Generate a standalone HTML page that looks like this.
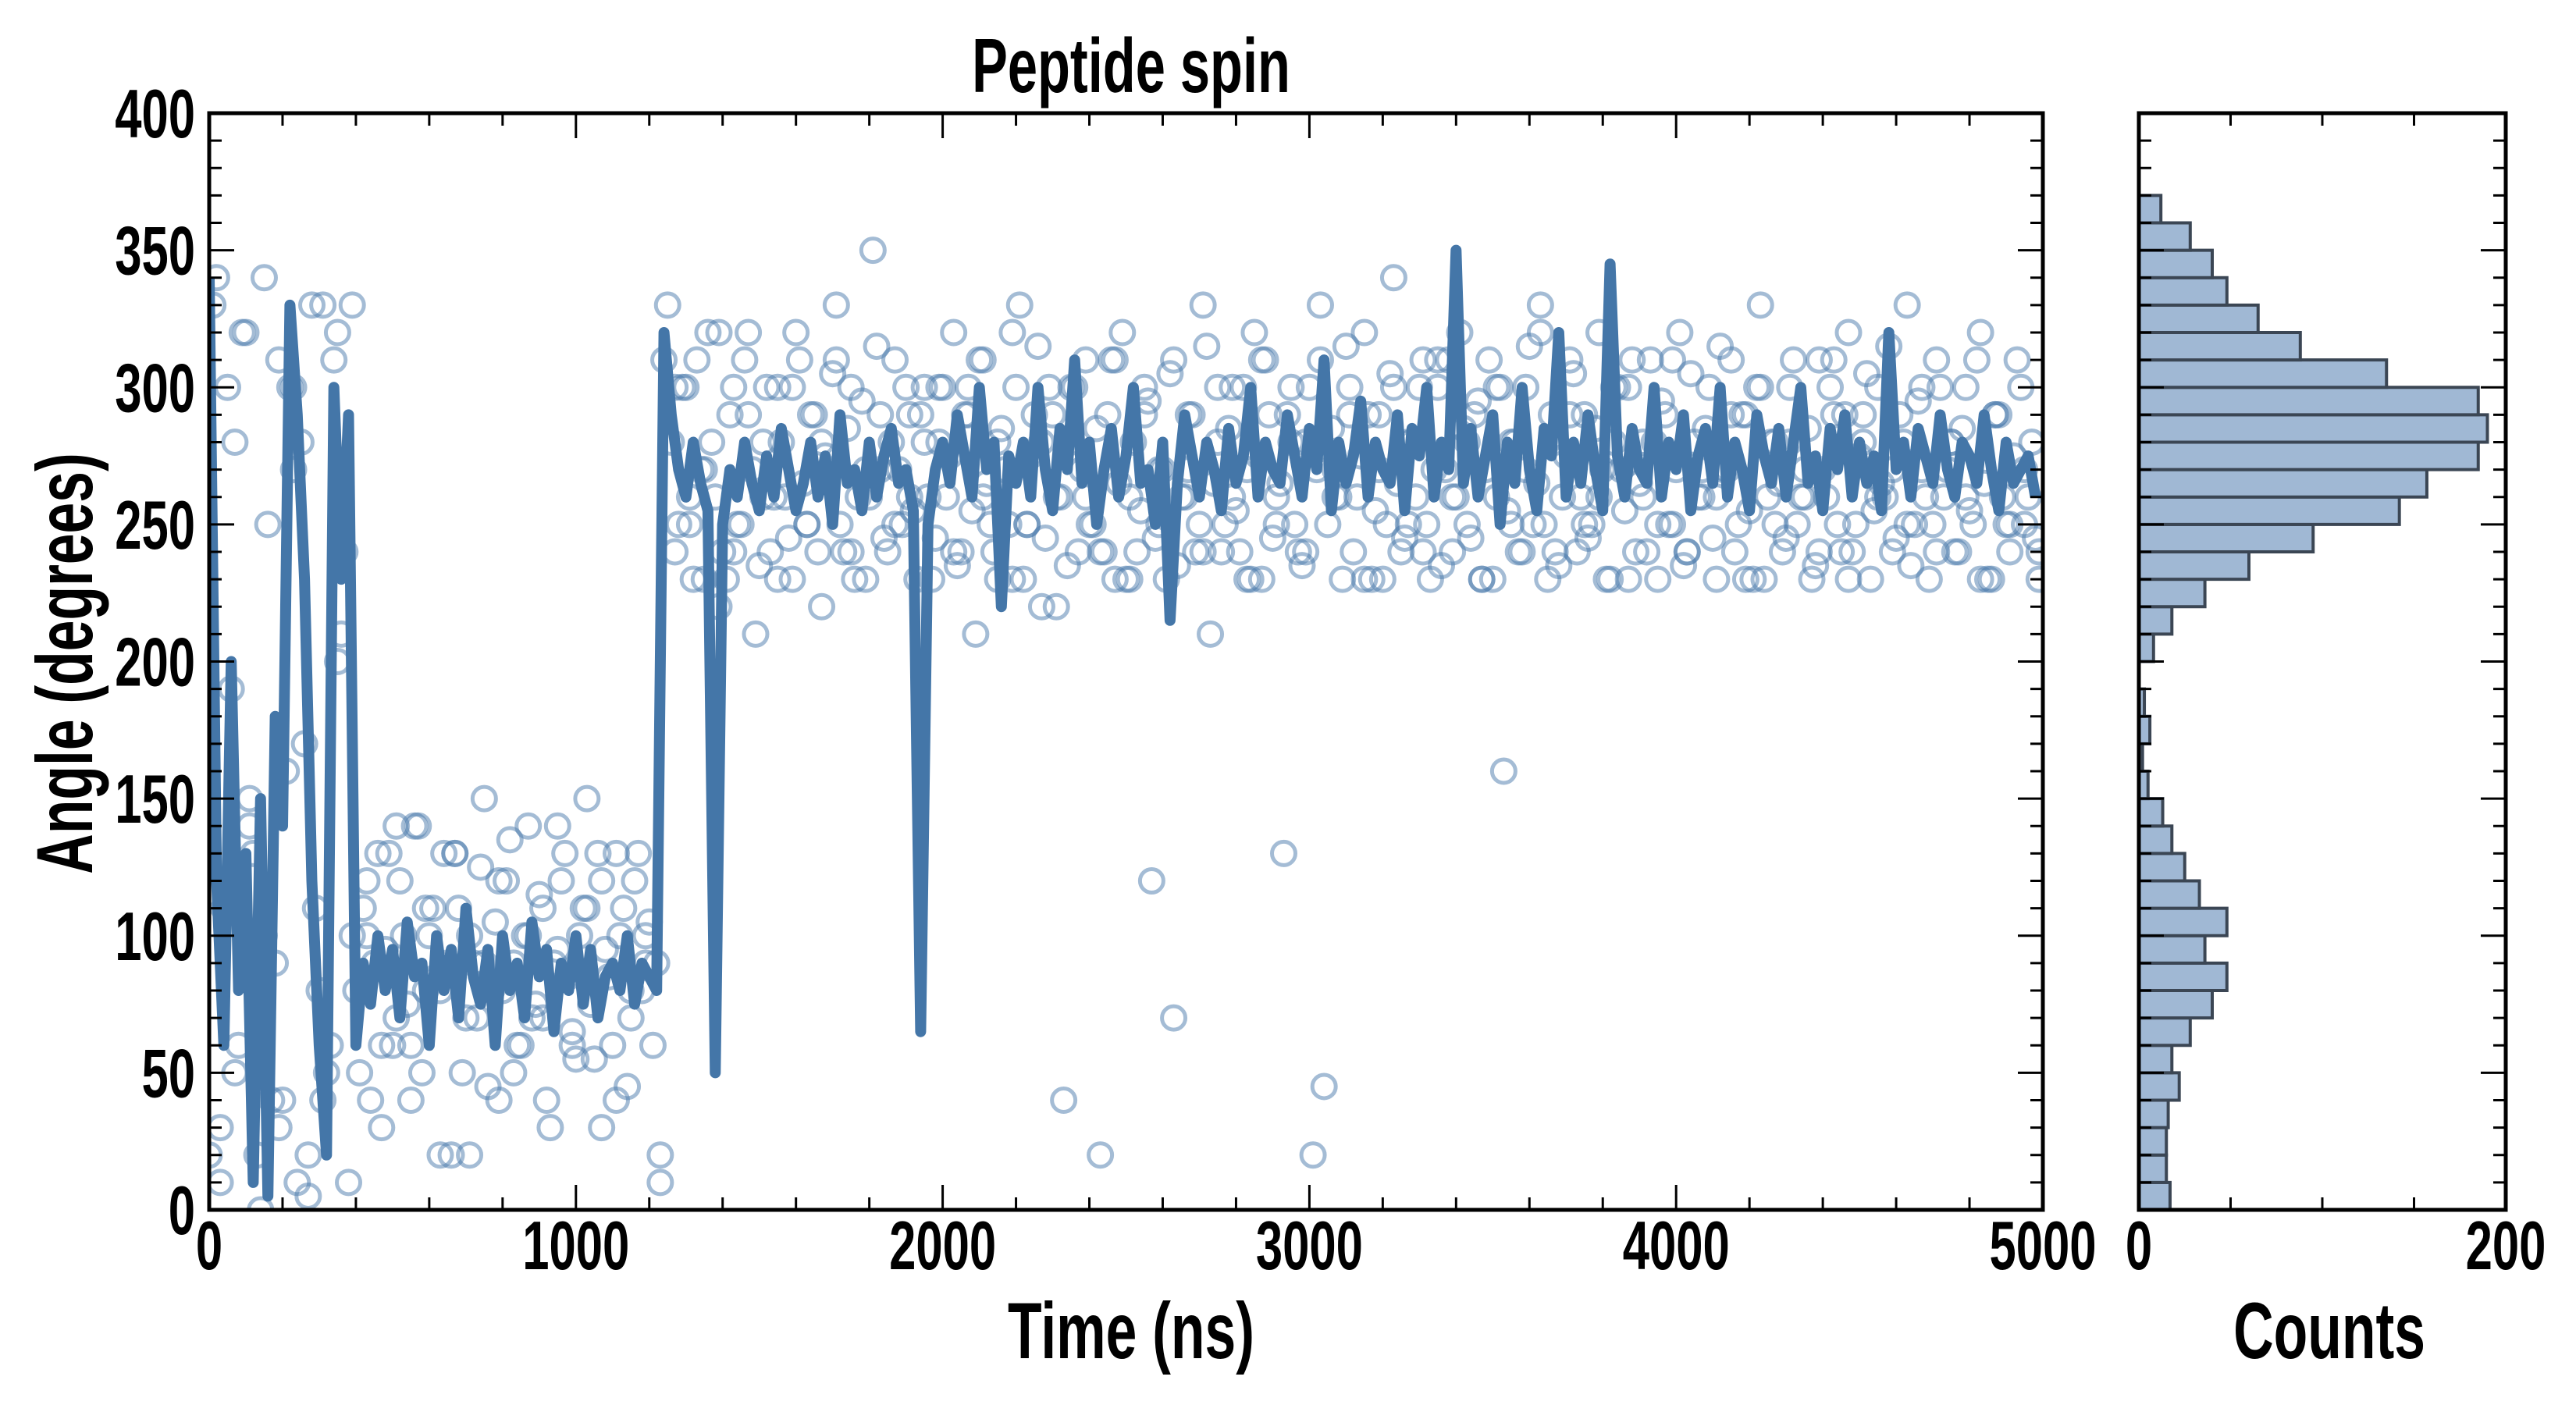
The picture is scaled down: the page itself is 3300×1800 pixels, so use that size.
<!DOCTYPE html>
<html><head><meta charset="utf-8"><style>
html,body{margin:0;padding:0;background:#fff;}
svg{display:block;}
text{font-family:"Liberation Sans Narrow","Liberation Sans",sans-serif;font-weight:bold;fill:#000;}
</style></head><body>
<svg id="chart" width="3300" height="1800" viewBox="0 0 3300 1800" xmlns="http://www.w3.org/2000/svg"></svg>
<script>
// ---- data ----
const lineStep = 20;
const lineValues = [340,120,60,200,80,130,10,150,5,180,140,330,290,230,120,60,20,300,230,290,
60,90,75,100,80,95,70,105,85,90,60,100,80,95,70,110,85,75,95,60,100,80,90,70,105,85,95,65,90,80,100,75,95,70,85,90,80,100,75,90,85,80,
320,290,270,260,280,265,255,50,
250,270,260,280,265,255,275,260,285,270,255,265,280,260,275,250,290,265,270,255,280,260,275,285,265,270,255,65,
250,270,280,265,290,275,260,300,270,280,
220,275,265,280,260,300,270,255,285,270,
310,265,280,250,270,285,260,275,300,265,
270,250,280,215,265,290,275,260,280,270,
255,285,265,275,300,260,280,270,265,290,
275,260,285,270,310,255,280,265,275,295,
260,280,270,265,290,255,285,275,300,260,
280,270,350,265,285,260,275,290,250,280,
265,300,270,255,285,275,320,260,280,265,
290,270,255,345,275,260,285,270,265,300,
260,280,270,290,255,275,285,265,300,260,
280,270,255,290,275,265,285,260,280,300,
265,275,255,285,270,290,260,280,265,275,
255,320,270,280,260,285,275,265,290,270,
260,280,275,265,290,270,255,280,265,270,
275,260];
const scatterAStart = 10, scatterAStep = 20;
const scatterAValues = [330,30,300,50,320,140,20,100,40,310,160,300,280,20,110,40,60,320,240,330,
50,120,90,30,130,70,100,60,140,80,110,20,90,130,50,100,70,150,80,40,120,90,60,140,75,110,30,95,130,65,100,150,55,120,85,40,110,70,130,90,60,20,
330,240,300,260,310,230,280,220,
230,300,250,320,210,280,240,300,260,230,310,250,290,220,270,330,240,300,260,230,350,270,240,310,250,290,230,280,
230,300,260,320,240,290,210,310,250,280,
270,230,330,250,290,220,300,260,40,280,
240,310,250,20,290,230,320,260,240,300,
120,270,230,310,260,290,240,330,210,280,
250,300,240,270,320,230,290,260,130,300,
240,280,20,310,250,270,230,300,260,320,
230,290,250,340,240,280,260,310,230,300,
270,240,320,250,290,230,310,260,160,280,
240,300,250,330,230,280,260,310,240,290,
250,320,230,280,270,300,240,260,310,230,
290,250,320,240,280,260,300,230,270,310,
250,290,230,330,260,280,240,300,250,270,
230,310,260,290,240,320,250,280,230,300,
260,240,290,330,250,270,230,310,260,280,
240,300,250,320,230,290,260,240,310,250,
280,230];
const scatterBStart = 30, scatterBStep = 40;
const scatterBValues = [10,280,150,340,30,270,5,330,200,100,
100,60,140,40,110,80,130,20,90,120,50,100,70,140,60,110,30,130,80,100,10,
300,250,270,320,240,290,260,230,300,250,280,310,240,270,290,250,260,300,
280,240,300,260,230,320,250,280,220,300,
260,240,310,230,290,250,70,270,240,300,
260,230,310,250,280,240,330,260,290,230,
270,300,250,240,310,260,280,230,300,250,
270,320,240,290,250,260,300,230,280,250,
310,240,270,260,290,230,300,250,280,260,
240,310,230,290,260,270,250,300,240,280,
260,230,290,250,270,240];
const scatterCStart = 0, scatterCStep = 20;
const scatterCValues = [20,340,110,190,60,320,130,0,250,90,40,300,10,170,330,80,50,310,210,10,
80,110,40,130,95,60,120,75,140,50,100,85,130,20,110,70,90,125,45,105,80,135,60,100,70,115,40,90,120,85,55,110,75,130,95,60,100,45,120,80,105,90,
310,280,250,300,230,270,320,260,240,290,250,310,270,235,300,260,280,245,320,265,290,240,275,305,250,285,230,295,260,315,245,280,270,300,255,290,
260,245,300,275,235,290,255,310,265,240,
285,250,300,230,275,315,245,290,260,235,
300,270,250,285,240,310,265,230,280,255,
295,245,270,305,235,260,290,250,315,265,
240,285,255,300,230,275,310,245,265,290,
250,235,300,270,45,285,260,315,240,275,
290,255,230,305,265,245,280,300,250,270,
235,310,260,285,245,295,270,230,300,255,
280,240,315,265,250,290,235,275,305,260,
245,285,270,230,300,255,310,265,240,280,
295,250,270,235,305,260,285,245,315,270,
240,290,255,300,230,280,265,245,310,260,
285,235,270,300,250,290,240,275,305,255,
265,315,245,280,235,295,260,250,300,270,
240,285,255,310,265,230,290,250,275,300,
260,245];
const histBinWidth = 10;
const histCounts = [17,15,15,16,22,18,28,40,48,36,48,33,25,18,13,5,2,6,3,0,8,18,36,60,95,142,157,185,190,185,135,88,65,48,40,28,12];
const xTickLabels = ["0","1000","2000","3000","4000","5000"];
const yTickLabels = ["0","50","100","150","200","250","300","350","400"];
const histTickLabels = ["0","200"];

// ---- layout ----
const NS = "http://www.w3.org/2000/svg";
const svg = document.getElementById('chart');
const M = {l:268, r:2617, t:145, b:1550};
const H = {l:2740, r:3210};
const xMax = 5000, yMax = 400, cMax = 200;
const xs = v => M.l + v / xMax * (M.r - M.l);
const ys = v => M.b - v / yMax * (M.b - M.t);
const cs = v => H.l + v / cMax * (H.r - H.l);
function el(tag, attrs, parent) {
  const e = document.createElementNS(NS, tag);
  for (const k in attrs) e.setAttribute(k, attrs[k]);
  (parent || svg).appendChild(e);
  return e;
}
function txt(x, y, s, size, anchor, name, rot) {
  const t = el('text', {x:0, y:0, 'font-size':size, 'text-anchor':anchor,
    transform:`translate(${x},${y})${rot ? ' rotate(-90)' : ''} scale(0.7,1)`});
  t.textContent = s;
  
  
  return t;
}

const defs = el('defs', {});
const cp = el('clipPath', {id:'mainclip'}, defs);
el('rect', {x:M.l, y:M.t, width:M.r-M.l, height:M.b-M.t}, cp);

// scatter
const gS = el('g', {'clip-path':'url(#mainclip)'});


function scatter(start, step, vals) {
  vals.forEach((v, i) => {
    const c = el('circle', {cx:xs(start + i*step), cy:ys(v), r:15, fill:'none', stroke:'#4a7aab', 'stroke-opacity':0.5, 'stroke-width':5}, gS);
    
    
  });
}
scatter(scatterAStart, scatterAStep, scatterAValues);
scatter(scatterBStart, scatterBStep, scatterBValues);
scatter(scatterCStart, scatterCStep, scatterCValues);

// line
let d = '';
lineValues.forEach((v, i) => { d += (i ? 'L' : 'M') + xs(i*lineStep).toFixed(1) + ',' + ys(v).toFixed(1); });
const line = el('path', {d, fill:'none', stroke:'#4476a8', 'stroke-width':14, 'stroke-linejoin':'round', 'clip-path':'url(#mainclip)'});



// histogram
const gH = el('g', {});


histCounts.forEach((c, i) => {
  if (!c) return;
  const y0 = ys(i*histBinWidth), y1 = ys((i+1)*histBinWidth);
  const r = el('rect', {x:H.l, y:y1, width:cs(c)-H.l, height:y0-y1, fill:'#a0b8d4', stroke:'#3b4654', 'stroke-width':4}, gH);
  
  
});

// axes
function frame(l, r, name) {
  const f = el('rect', {x:l, y:M.t, width:r-l, height:M.b-M.t, fill:'none', stroke:'#000', 'stroke-width':5});
  
  
  for (let v = 0; v <= yMax; v += 10) {
    const len = v % 50 === 0 ? 32 : 16;
    el('line', {x1:l, x2:l+len, y1:ys(v), y2:ys(v), stroke:'#000', 'stroke-width':3});
    el('line', {x1:r, x2:r-len, y1:ys(v), y2:ys(v), stroke:'#000', 'stroke-width':3});
  }
}
frame(M.l, M.r, 'main-plot-frame');
frame(H.l, H.r, 'histogram-frame');
for (let v = 0; v <= xMax; v += 200) {
  const len = v % 1000 === 0 ? 32 : 16;
  el('line', {x1:xs(v), x2:xs(v), y1:M.b, y2:M.b-len, stroke:'#000', 'stroke-width':3});
  el('line', {x1:xs(v), x2:xs(v), y1:M.t, y2:M.t+len, stroke:'#000', 'stroke-width':3});
}
for (let v = 0; v <= cMax; v += 50) {
  el('line', {x1:cs(v), x2:cs(v), y1:M.b, y2:M.b-16, stroke:'#000', 'stroke-width':3});
  el('line', {x1:cs(v), x2:cs(v), y1:M.t, y2:M.t+16, stroke:'#000', 'stroke-width':3});
}

// labels
xTickLabels.forEach((s, i) => txt(xs(i*1000), 1626, s, 88, 'middle', 'x-tick-label'));
yTickLabels.forEach((s, i) => txt(250, ys(i*50)+31, s, 88, 'end', 'y-tick-label'));
histTickLabels.forEach((s, i) => txt(cs(i*200), 1626, s, 88, 'middle', 'histogram-tick-label'));
txt(1449, 118, 'Peptide spin', 98, 'middle', 'chart-title');
txt(1449, 1740, 'Time (ns)', 102, 'middle', 'x-axis-title');
txt(2984, 1740, 'Counts', 102, 'middle', 'histogram-x-axis-title');
txt(118, 850, 'Angle (degrees)', 102, 'middle', 'y-axis-title', true);
</script>
</body></html>
